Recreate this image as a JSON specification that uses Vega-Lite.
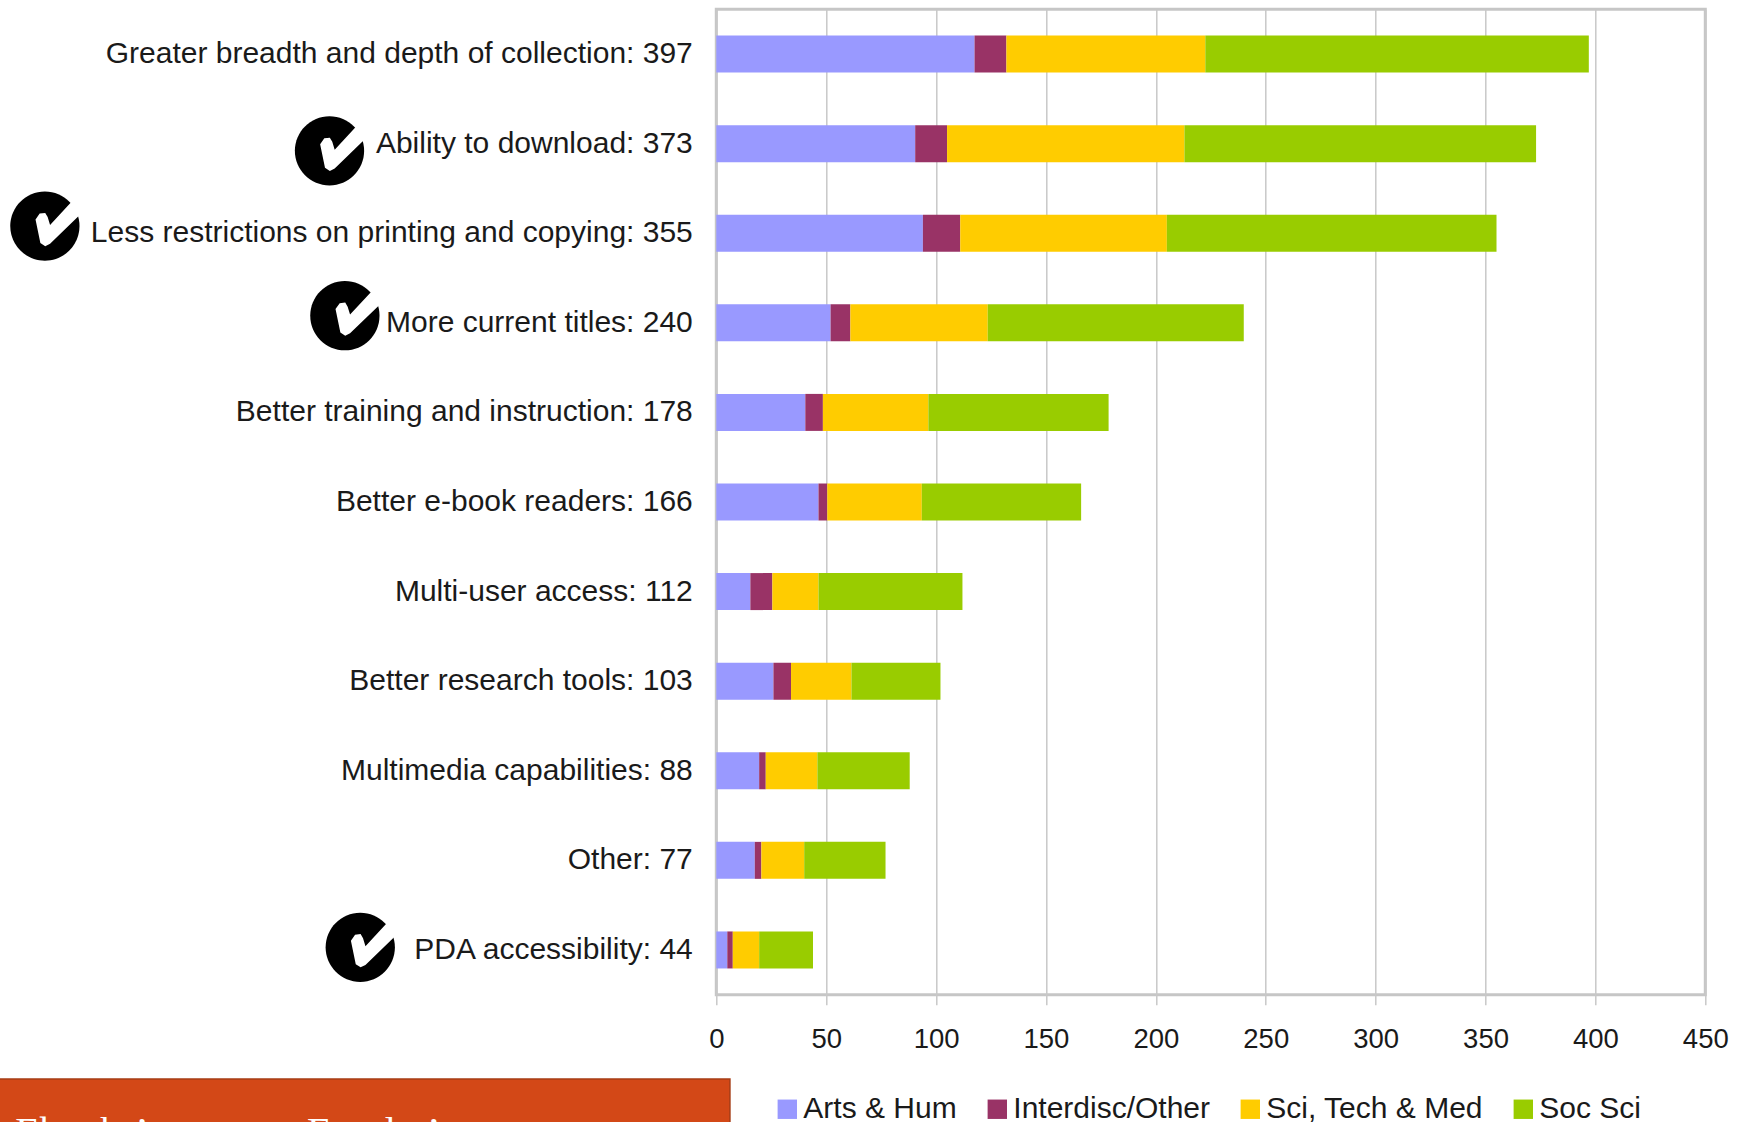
{"$schema":"https://vega.github.io/schema/vega-lite/v6.json","width":989,"height":985.5,"autosize":{"type":"none"},"padding":{"left":716.3,"top":9.25,"right":38.7,"bottom":127.25},"background":"white","config":{"font":"Liberation Sans","view":{"stroke":"#C6C6C6","strokeWidth":3},"axisX":{"tickCount":10,"domain":false,"grid":true,"gridColor":"#C8C8C8","gridWidth":1.5,"tickColor":"#C8C8C8","tickWidth":1.5,"tickSize":10,"labelFontSize":27.5,"labelColor":"#1a1a1a","labelPadding":21,"labelFlush":false,"labelOverlap":false,"labelFont":"Liberation Sans"}},"datasets":{"bars":[
{"item":"Greater breadth and depth of collection: 397","group":"Arts & Hum","n":117.5},{"item":"Greater breadth and depth of collection: 397","group":"Interdisc/Other","n":14.5},{"item":"Greater breadth and depth of collection: 397","group":"Sci, Tech & Med","n":90.5},{"item":"Greater breadth and depth of collection: 397","group":"Soc Sci","n":174.5},
{"item":"Ability to download: 373","group":"Arts & Hum","n":90.5},{"item":"Ability to download: 373","group":"Interdisc/Other","n":14.5},{"item":"Ability to download: 373","group":"Sci, Tech & Med","n":108},{"item":"Ability to download: 373","group":"Soc Sci","n":160},
{"item":"Less restrictions on printing and copying: 355","group":"Arts & Hum","n":94},{"item":"Less restrictions on printing and copying: 355","group":"Interdisc/Other","n":17},{"item":"Less restrictions on printing and copying: 355","group":"Sci, Tech & Med","n":94},{"item":"Less restrictions on printing and copying: 355","group":"Soc Sci","n":150},
{"item":"More current titles: 240","group":"Arts & Hum","n":52},{"item":"More current titles: 240","group":"Interdisc/Other","n":9},{"item":"More current titles: 240","group":"Sci, Tech & Med","n":62.5},{"item":"More current titles: 240","group":"Soc Sci","n":116.5},
{"item":"Better training and instruction: 178","group":"Arts & Hum","n":40.5},{"item":"Better training and instruction: 178","group":"Interdisc/Other","n":8},{"item":"Better training and instruction: 178","group":"Sci, Tech & Med","n":48},{"item":"Better training and instruction: 178","group":"Soc Sci","n":82},
{"item":"Better e-book readers: 166","group":"Arts & Hum","n":46.5},{"item":"Better e-book readers: 166","group":"Interdisc/Other","n":4},{"item":"Better e-book readers: 166","group":"Sci, Tech & Med","n":43},{"item":"Better e-book readers: 166","group":"Soc Sci","n":72.5},
{"item":"Multi-user access: 112","group":"Arts & Hum","n":15.5},{"item":"Multi-user access: 112","group":"Interdisc/Other","n":10},{"item":"Multi-user access: 112","group":"Sci, Tech & Med","n":21},{"item":"Multi-user access: 112","group":"Soc Sci","n":65.5},
{"item":"Better research tools: 103","group":"Arts & Hum","n":26},{"item":"Better research tools: 103","group":"Interdisc/Other","n":8},{"item":"Better research tools: 103","group":"Sci, Tech & Med","n":27.5},{"item":"Better research tools: 103","group":"Soc Sci","n":40.5},
{"item":"Multimedia capabilities: 88","group":"Arts & Hum","n":19.5},{"item":"Multimedia capabilities: 88","group":"Interdisc/Other","n":3},{"item":"Multimedia capabilities: 88","group":"Sci, Tech & Med","n":23.5},{"item":"Multimedia capabilities: 88","group":"Soc Sci","n":42},
{"item":"Other: 77","group":"Arts & Hum","n":17.5},{"item":"Other: 77","group":"Interdisc/Other","n":3},{"item":"Other: 77","group":"Sci, Tech & Med","n":19.5},{"item":"Other: 77","group":"Soc Sci","n":37},
{"item":"PDA accessibility: 44","group":"Arts & Hum","n":5},{"item":"PDA accessibility: 44","group":"Interdisc/Other","n":2.5},{"item":"PDA accessibility: 44","group":"Sci, Tech & Med","n":12},{"item":"PDA accessibility: 44","group":"Soc Sci","n":24.5}],
"ticks":[{"feature":"Ability to download","at":-176,"row":1.58},{"feature":"Less restrictions on printing and copying","at":-305.5,"row":2.42},{"feature":"More current titles","at":-169,"row":3.42},{"feature":"PDA accessibility","at":-162,"row":10.47}],
"banner":[{"from":-335,"to":6.2,"top":11.94,"bottom":12.8}],
"bannerText":[{"label":"Ebooks’","at":-319,"row":12.68},{"label":"Faculty’","at":-186.2,"row":12.68}]},
"layer":[
{"data":{"name":"banner"},"mark":{"type":"rect","fill":"#D34817","stroke":"#A63C14","strokeWidth":1.5},"encoding":{"x":{"field":"from","type":"quantitative","scale":{"domain":[0,450]},"axis":{"title":null}},"x2":{"field":"to"},"y":{"field":"top","type":"quantitative","scale":{"domain":[0,11],"reverse":true},"axis":null},"y2":{"field":"bottom"}}},
{"data":{"name":"bannerText"},"mark":{"type":"text","font":"Liberation Serif","fontSize":40,"color":"white","align":"left","baseline":"alphabetic"},"encoding":{"x":{"field":"at","type":"quantitative","scale":{"domain":[0,450]},"axis":{"title":null}},"y":{"field":"row","type":"quantitative","scale":{"domain":[0,11],"reverse":true},"axis":null},"text":{"field":"label"}}},
{"data":{"name":"bars"},"mark":{"type":"bar"},"encoding":{
"y":{"field":"item","type":"nominal","sort":null,"scale":{"paddingInner":0.587,"paddingOuter":0.2935},"axis":{"title":null,"domain":false,"ticks":false,"grid":false,"labelFontSize":30,"labelColor":"#1a1a1a","labelLimit":800,"labelPadding":24,"labelFont":"Liberation Sans"}},
"x":{"field":"n","type":"quantitative","stack":"zero","scale":{"domain":[0,450],"nice":false},"axis":{"title":null}},
"color":{"field":"group","type":"nominal","scale":{"domain":["Arts & Hum","Interdisc/Other","Sci, Tech & Med","Soc Sci"],"range":["#9999FF","#993366","#FFCC00","#99CC00"]},"legend":{"title":null,"orient":"none","legendX":56,"legendY":1085,"direction":"horizontal","columns":4,"columnPadding":25,"symbolType":"square","symbolSize":376,"symbolStrokeWidth":0,"labelFontSize":30,"labelColor":"#1a1a1a","labelOffset":1,"labelLimit":400,"labelFont":"Liberation Sans"}},
"order":{"field":"group","sort":"ascending"}}},
{"data":{"name":"ticks"},"mark":{"type":"point","shape":"M-1,0A1,1 0 1,1 1,0A1,1 0 1,1 -1,0Z","filled":true,"fill":"black","opacity":1,"size":4800,"strokeWidth":0},"encoding":{"x":{"field":"at","type":"quantitative","scale":{"domain":[0,450]},"axis":{"title":null}},"y":{"field":"row","type":"quantitative","scale":{"domain":[0,11],"reverse":true},"axis":null}}},
{"data":{"name":"ticks"},"mark":{"type":"point","shape":"M-.27,-.19L-.15,-.36L.01,-.38L.08,-.26L.15,-.03L.79,-.72L1.05,-.36L.15,.51L.01,.58L-.13,.49Z","filled":true,"fill":"white","opacity":1,"size":4800,"strokeWidth":0},"encoding":{"x":{"field":"at","type":"quantitative","scale":{"domain":[0,450]},"axis":{"title":null}},"y":{"field":"row","type":"quantitative","scale":{"domain":[0,11],"reverse":true},"axis":null}}}
],
"resolve":{"scale":{"y":"independent"},"axis":{"y":"independent"}}}
